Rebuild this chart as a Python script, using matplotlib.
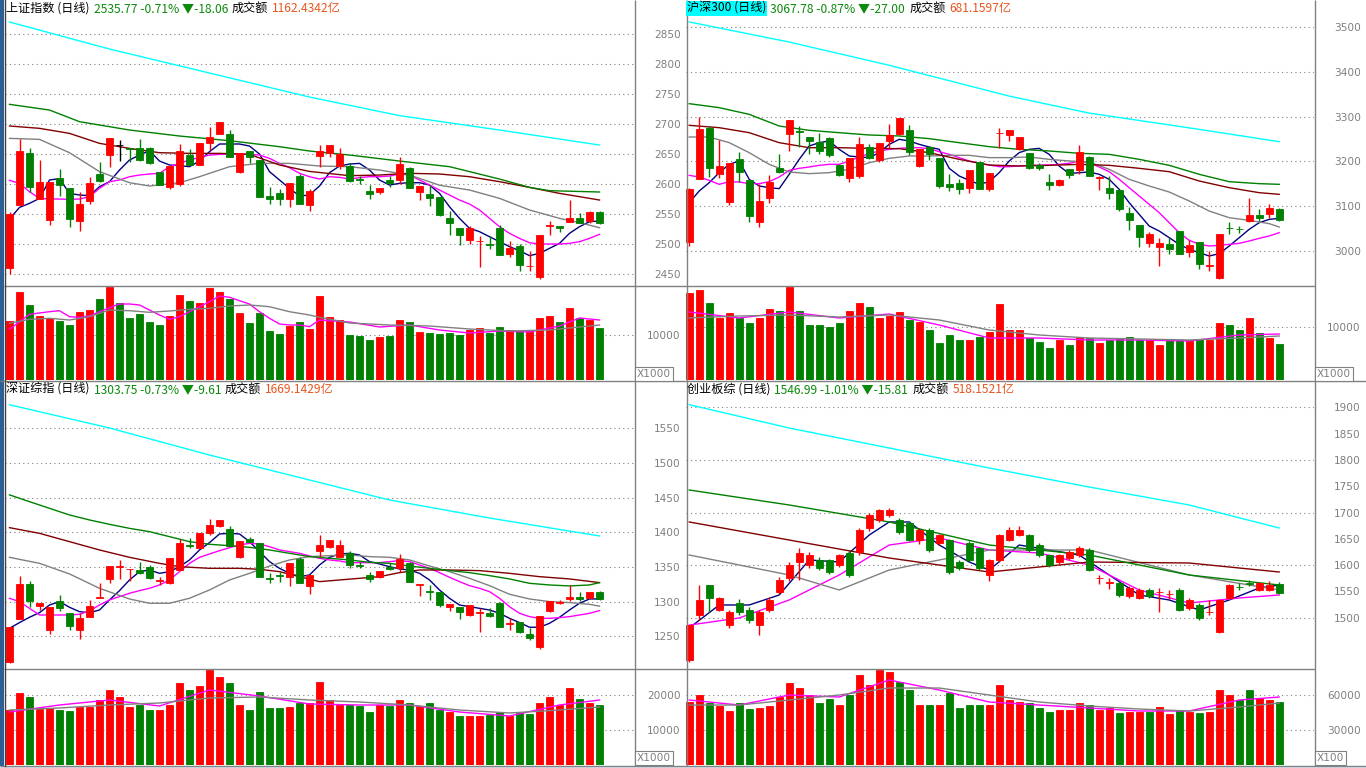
import numpy as np
import matplotlib
matplotlib.use('Agg')
import matplotlib.pyplot as plt
from matplotlib.patches import Rectangle

W, H = 1366, 768
RED = '#ff0000'
GREEN = '#008000'
GRAY = '#808080'
C_MA = ['#000080', '#ff00ff', '#808080', '#800000', '#008000', '#00ffff']
CJK = ['Noto Sans CJK SC', 'DejaVu Sans']
plt.rcParams['font.family'] = ['DejaVu Sans']

# ---------------- 上证指数 ----------------
tl_head = ['上证指数 (日线)', '2535.77 -0.71% ▼-18.06', '成交额', '1162.4342亿']
tl_open = [2460.6, 2565.6, 2651.7, 2575.6, 2540.6, 2610.0, 2593.3, 2539.0, 2572.2, 2616.7,
           2648.9, 2664.4, 2659.4, 2659.4, 2660.0, 2620.6, 2594.4, 2600.0, 2648.9, 2632.2,
           2668.9, 2682.8, 2683.9, 2620.6, 2655.0, 2640.0, 2580.0, 2585.0, 2575.6, 2613.3,
           2564.4, 2646.7, 2651.1, 2630.6, 2630.6, 2607.8, 2588.9, 2587.2, 2606.7, 2606.7,
           2626.7, 2587.2, 2582.8, 2578.3, 2543.9, 2526.7, 2506.7, 2504.4, 2499.4, 2526.1,
           2483.3, 2497.2, 2462.8, 2445.6, 2529.5, 2530.0, 2536.7, 2543.9, 2538.3, 2553.3]
tl_close = [2550.0, 2655.0, 2595.6, 2603.3, 2603.9, 2598.3, 2542.2, 2566.7, 2601.7, 2605.6,
            2676.7, 2664.4, 2658.3, 2640.0, 2635.6, 2598.3, 2629.4, 2655.0, 2631.7, 2668.3,
            2678.3, 2703.3, 2645.6, 2652.2, 2645.6, 2578.9, 2575.6, 2574.4, 2601.7, 2567.2,
            2588.9, 2655.0, 2665.0, 2649.4, 2605.0, 2606.7, 2583.9, 2593.3, 2601.7, 2633.3,
            2593.3, 2596.7, 2576.7, 2547.8, 2535.0, 2515.0, 2527.2, 2505.0, 2498.3, 2481.7,
            2493.9, 2465.6, 2463.9, 2515.0, 2531.0, 2527.2, 2543.9, 2535.6, 2553.8, 2535.8]
tl_high = [2553.3, 2675.0, 2660.0, 2640.0, 2604.0, 2625.0, 2593.3, 2586.7, 2611.0, 2636.7,
           2676.7, 2673.3, 2659.4, 2675.0, 2662.0, 2620.6, 2629.4, 2666.7, 2658.3, 2668.3,
           2694.4, 2703.3, 2690.0, 2652.2, 2655.0, 2640.0, 2594.4, 2591.7, 2601.7, 2616.7,
           2591.0, 2665.0, 2665.0, 2659.4, 2634.4, 2613.3, 2598.3, 2593.3, 2613.3, 2645.6,
           2628.9, 2596.7, 2598.3, 2578.3, 2555.0, 2526.7, 2530.0, 2513.3, 2513.3, 2531.7,
           2505.0, 2500.0, 2488.3, 2515.0, 2538.9, 2530.0, 2573.3, 2551.1, 2555.0, 2555.0]
tl_low = [2449.4, 2565.0, 2586.0, 2575.0, 2531.7, 2580.0, 2529.0, 2522.0, 2567.0, 2604.0,
          2629.0, 2638.3, 2637.0, 2638.3, 2632.8, 2598.3, 2591.0, 2597.0, 2631.7, 2632.2,
          2656.7, 2682.8, 2644.4, 2617.8, 2634.4, 2577.8, 2567.2, 2565.6, 2562.2, 2567.2,
          2555.6, 2628.9, 2645.6, 2624.4, 2604.0, 2599.4, 2575.6, 2583.9, 2594.4, 2599.4,
          2593.3, 2573.3, 2563.3, 2546.7, 2515.0, 2498.3, 2500.0, 2462.2, 2491.7, 2481.7,
          2478.9, 2455.6, 2455.6, 2441.1, 2515.0, 2520.6, 2536.7, 2535.6, 2534.4, 2532.8]
tl_vol = [13111, 19556, 16667, 14222, 13778, 13111, 12222, 15111, 15556, 18000,
          20741, 17111, 13778, 14667, 12889, 12222, 14222, 18889, 17556, 17111,
          20444, 19556, 18000, 14889, 12667, 14889, 10889, 10222, 12000, 12889,
          11333, 18667, 14000, 13333, 10000, 9778, 8889, 9556, 9778, 13333,
          12889, 10667, 10444, 10222, 10444, 10000, 11111, 11556, 10444, 11778,
          11111, 10889, 11111, 13778, 14222, 12889, 16000, 13778, 13333, 11556]
tl_ma5 = [2541.7, 2561.0, 2567.8, 2576.0, 2606.7, 2608.9, 2584.4, 2581.7, 2580.6, 2595.6,
          2603.9, 2623.3, 2640.0, 2648.3, 2655.6, 2638.3, 2631.7, 2630.6, 2628.9, 2638.3,
          2653.9, 2666.7, 2666.7, 2666.7, 2663.3, 2650.0, 2620.6, 2606.7, 2592.8, 2580.0,
          2581.7, 2596.7, 2618.9, 2630.0, 2633.3, 2634.4, 2623.3, 2606.7, 2598.3, 2601.1,
          2602.2, 2602.2, 2598.3, 2584.4, 2562.2, 2542.8, 2526.1, 2520.6, 2512.2, 2503.9,
          2495.6, 2488.9, 2480.6, 2484.4, 2492.8, 2501.1, 2517.8, 2528.9, 2537.2, 2538.3]
tl_ma10 = [2606.1, 2601.1, 2587.2, 2576.1, 2575.0, 2575.0, 2574.4, 2575.0, 2578.9, 2592.8,
           2603.9, 2606.7, 2612.2, 2615.0, 2616.7, 2617.8, 2628.9, 2634.4, 2640.0, 2644.4,
           2648.3, 2649.4, 2650.0, 2650.0, 2649.4, 2648.3, 2642.8, 2634.4, 2627.2, 2617.8,
           2612.2, 2608.3, 2612.2, 2611.1, 2608.3, 2610.6, 2612.2, 2612.2, 2613.3, 2616.7,
           2615.0, 2606.7, 2598.3, 2590.0, 2581.7, 2573.3, 2566.7, 2556.7, 2542.8, 2528.9,
           2517.8, 2509.4, 2502.2, 2500.0, 2500.0, 2500.0, 2501.1, 2503.9, 2509.4, 2516.1]
tl_ma20_i = [0, 3, 6, 9, 12, 14, 17, 19, 22, 25, 28, 31, 34, 37, 40, 43, 46, 49, 52, 55, 57, 59]
tl_ma20 = [2676.1, 2674.4, 2652.2, 2620.6, 2602.2, 2596.7, 2602.2, 2612.2, 2628.9, 2634.4, 2634.4,
           2630.0, 2628.9, 2623.3, 2615.0, 2598.0, 2590.0, 2576.1, 2556.7, 2542.8, 2535.6, 2527.2]
tl_ma30_i = [0, 3, 6, 9, 12, 15, 18, 21, 24, 27, 30, 34, 37, 40, 43, 46, 49, 52, 55, 57, 59]
tl_ma30 = [2696.7, 2692.8, 2684.4, 2667.8, 2659.4, 2652.2, 2651.1, 2651.1, 2649.4, 2631.7, 2621.0,
           2613.9, 2615.0, 2617.8, 2616.7, 2612.2, 2603.9, 2594.4, 2584.4, 2578.9, 2573.3]
tl_ma60_i = [0, 4, 7, 12, 17, 22, 27, 30, 34, 39, 44, 49, 52, 54, 59]
tl_ma60 = [2732.8, 2723.3, 2703.9, 2690.0, 2680.0, 2672.2, 2662.2, 2655.0, 2648.3, 2638.3,
           2628.9, 2608.3, 2594.4, 2588.9, 2586.7]
tl_ma120_i = [0, 10, 20, 30, 39, 49, 59]
tl_ma120 = [2870, 2825, 2785, 2745, 2714, 2690, 2665]
tl_vma5_i = [0, 2, 4, 5, 6, 7, 8, 9, 10, 11, 12, 13, 14, 15, 16, 17, 18, 19, 20, 21, 22, 23, 24, 25,
             26, 27, 28, 29, 30, 31, 34, 37, 40, 43, 46, 49, 52, 55, 57, 59]
tl_vma5 = [11267, 14600, 15178, 15400, 14067, 13933, 14222, 15178, 16067, 16889, 16889, 16667,
           15556, 14444, 13489, 14067, 15178, 16289, 17400, 18667, 18378, 17622, 16889, 15178,
           13711, 12444, 12222, 12222, 11844, 13333, 12889, 11778, 12222, 11111, 10444, 10889,
           10667, 12000, 13778, 13333]
tl_vma10_i = [0, 2, 4, 6, 8, 10, 12, 14, 16, 18, 20, 22, 24, 26, 28, 30, 31, 34, 38, 42, 46, 50, 54, 57, 59]
tl_vma10 = [12600, 13489, 13711, 13333, 14067, 15556, 15400, 15044, 15333, 15711, 15933, 16444,
            16667, 16289, 15178, 14444, 13933, 12667, 12222, 12000, 11333, 10889, 11111, 11778, 12222]

# ---------------- 沪深300 ----------------
tr_head = ['沪深300 (日线)', '3067.78 -0.87% ▼-27.00', '成交额', '681.1597亿']
tr_open = [3019.5, 3161.3, 3275.4, 3171.0, 3109.0, 3204.5, 3157.5, 3064.3, 3118.7, 3185.9,
           3262.0, 3267.9, 3255.3, 3244.1, 3253.0, 3191.8, 3163.5, 3167.2, 3232.9, 3203.0,
           3245.6, 3260.5, 3269.4, 3189.6, 3232.9, 3208.3, 3148.6, 3152.3, 3141.1, 3199.3,
           3137.4, 3262.7, 3259.0, 3226.9, 3219.4, 3191.8, 3154.5, 3147.1, 3182.1, 3179.9,
           3209.8, 3163.5, 3141.1, 3135.9, 3083.7, 3057.6, 3018.0, 3008.3, 3014.3, 3044.1,
           2997.1, 3019.5, 2965.8, 2939.7, 3051.6, 3049.4, 3066.5, 3079.2, 3082.9, 3092.6]
tr_close = [3137.4, 3271.7, 3185.9, 3189.6, 3195.6, 3176.2, 3077.7, 3111.3, 3154.5, 3176.9,
            3291.8, 3265.7, 3245.6, 3223.2, 3213.5, 3169.5, 3206.8, 3238.1, 3206.8, 3241.8,
            3258.2, 3296.3, 3221.7, 3226.9, 3215.7, 3144.8, 3142.6, 3137.4, 3179.9, 3137.4,
            3173.2, 3263.5, 3269.4, 3254.5, 3184.4, 3184.4, 3147.1, 3158.3, 3169.5, 3220.9,
            3167.2, 3164.5, 3128.4, 3092.6, 3068.0, 3030.7, 3038.2, 3018.0, 3003.1, 2993.4,
            3012.1, 2969.5, 2967.0, 3036.7, 3050.5, 3048.4, 3079.2, 3072.5, 3094.8, 3067.8]
tr_high = [3141.1, 3299.3, 3279.0, 3247.8, 3195.6, 3221.0, 3157.5, 3148.6, 3168.7, 3217.2,
           3291.8, 3279.1, 3255.3, 3264.2, 3255.0, 3194.8, 3206.8, 3255.3, 3239.6, 3241.8,
           3282.9, 3296.3, 3281.4, 3226.9, 3234.4, 3208.3, 3171.0, 3161.3, 3179.9, 3199.3,
           3173.2, 3273.9, 3269.4, 3254.5, 3219.4, 3197.0, 3171.0, 3159.8, 3182.1, 3235.9,
           3212.0, 3167.2, 3167.2, 3135.9, 3098.6, 3057.6, 3041.9, 3029.2, 3029.2, 3044.1,
           3024.0, 3019.5, 2999.4, 3036.7, 3064.3, 3055.3, 3118.7, 3092.6, 3103.8, 3095.0]
tr_low = [3010.6, 3161.0, 3165.0, 3163.5, 3102.3, 3154.5, 3064.3, 3053.1, 3107.5, 3173.2,
          3223.2, 3232.1, 3217.2, 3217.2, 3209.8, 3167.0, 3153.8, 3163.5, 3204.5, 3199.3,
          3230.6, 3258.2, 3214.2, 3187.4, 3202.3, 3141.1, 3133.7, 3127.7, 3128.4, 3137.4,
          3133.7, 3230.6, 3245.6, 3224.7, 3182.0, 3179.9, 3135.2, 3144.8, 3163.5, 3171.0,
          3167.2, 3135.2, 3116.5, 3088.9, 3045.6, 3008.3, 3008.3, 2965.8, 2993.4, 2993.4,
          2986.0, 2958.3, 2954.6, 2936.0, 3036.7, 3038.9, 3064.3, 3066.5, 3072.5, 3066.0]
tr_vol = [16417, 16983, 14530, 11699, 12643, 11699, 10756, 11699, 13398, 13020,
          17549, 13020, 10379, 10379, 10001, 10756, 13020, 14530, 13775, 11699,
          12077, 12832, 11322, 10945, 9435, 6982, 8492, 7548, 7548, 8114,
          9058, 14341, 9435, 9435, 7925, 7171, 6038, 7548, 6605, 8114,
          7925, 6982, 7548, 7925, 8114, 7548, 7548, 6605, 7548, 7548,
          7548, 7737, 7548, 10756, 10379, 9435, 11699, 8869, 7925, 6793]
tr_ma5 = [3107.5, 3133.7, 3152.3, 3174.7, 3193.3, 3200.8, 3159.8, 3144.9, 3141.1, 3138.9,
          3171.0, 3204.5, 3234.4, 3241.8, 3245.6, 3226.9, 3212.0, 3209.8, 3208.3, 3219.5,
          3238.1, 3249.3, 3245.6, 3238.1, 3232.1, 3226.9, 3184.4, 3167.2, 3157.5, 3148.6,
          3154.5, 3174.7, 3200.8, 3219.5, 3226.9, 3229.1, 3215.7, 3189.6, 3172.5, 3174.7,
          3176.2, 3171.0, 3159.8, 3137.4, 3107.5, 3081.4, 3055.3, 3044.1, 3029.2, 3014.3,
          3003.1, 2995.7, 2988.2, 2993.4, 3010.6, 3029.2, 3047.9, 3062.8, 3070.2, 3072.5]
tr_ma10 = [3168.7, 3165.0, 3157.5, 3148.6, 3154.5, 3153.8, 3150.1, 3150.1, 3154.5, 3165.0,
           3179.9, 3184.4, 3187.4, 3191.1, 3193.3, 3193.3, 3200.8, 3209.8, 3217.2, 3223.2,
           3226.9, 3229.1, 3230.6, 3230.6, 3228.4, 3221.7, 3215.7, 3208.3, 3200.8, 3195.6,
           3191.8, 3188.1, 3188.1, 3189.6, 3191.1, 3191.8, 3191.8, 3193.3, 3195.6, 3200.8,
           3197.0, 3187.4, 3176.9, 3159.8, 3141.1, 3122.5, 3103.8, 3085.2, 3062.8, 3040.4,
           3023.3, 3014.3, 3010.6, 3012.1, 3014.3, 3016.5, 3021.8, 3027.7, 3033.0, 3040.4]
tr_ma20_i = [0, 2, 4, 6, 8, 10, 12, 14, 16, 18, 20, 22, 24, 26, 28, 30, 32, 34, 36, 38, 40, 42,
             44, 46, 48, 50, 52, 54, 56, 58, 59]
tr_ma20 = [3254.5, 3254.5, 3241.8, 3219.5, 3193.3, 3176.2, 3172.5, 3174.7, 3182.1, 3197.0, 3206.8,
           3212.0, 3212.0, 3213.5, 3213.5, 3208.3, 3208.3, 3209.8, 3204.5, 3200.8, 3198.6, 3182.1,
           3159.8, 3144.9, 3131.4, 3111.3, 3088.9, 3073.9, 3068.0, 3060.6, 3053.1]
tr_ma30_i = [0, 3, 6, 9, 12, 15, 18, 21, 24, 27, 30, 33, 36, 39, 42, 45, 48, 51, 54, 57, 59]
tr_ma30 = [3280.6, 3275.4, 3264.2, 3241.8, 3230.6, 3230.6, 3229.1, 3228.4, 3219.5, 3204.5, 3191.8,
           3189.6, 3191.1, 3193.3, 3191.1, 3184.4, 3176.9, 3156.0, 3141.1, 3129.9, 3126.2]
tr_ma60_i = tr_ma30_i
tr_ma60 = [3329.1, 3320.2, 3305.2, 3279.1, 3269.4, 3264.2, 3259.0, 3256.8, 3250.8, 3241.8, 3232.9,
           3226.9, 3223.2, 3218.0, 3215.7, 3204.5, 3191.1, 3171.0, 3154.5, 3150.1, 3148.6]
tr_ma120_i = [0, 10, 20, 32, 40, 50, 59]
tr_ma120 = [3512, 3467, 3415, 3346, 3308, 3275, 3244]
tr_vma_i = [0, 5, 10, 15, 20, 25, 30, 35, 40, 45, 50, 55, 59]
tr_vma5 = [12832, 11699, 12832, 11699, 12454, 10379, 7925, 7925, 7548, 7548, 7359, 8492, 8680]
tr_vma10 = [11699, 12077, 12266, 11888, 12266, 11322, 9435, 8492, 7925, 7737, 7548, 7925, 8303]

# ---------------- 深证综指 ----------------
bl_head = ['深证综指 (日线)', '1303.75 -0.73% ▼-9.61', '成交额', '1669.1429亿']
bl_open = [1213.4, 1275.0, 1325.4, 1294.2, 1259.1, 1300.9, 1283.1, 1259.1, 1278.3, 1304.8,
           1333.1, 1350.4, 1346.6, 1345.6, 1349.5, 1329.8, 1327.4, 1345.6, 1381.7, 1377.8,
           1399.5, 1409.1, 1404.8, 1364.9, 1390.3, 1384.1, 1334.1, 1338.4, 1336.0, 1361.5,
           1323.0, 1373.5, 1379.3, 1364.9, 1369.7, 1352.8, 1338.4, 1336.0, 1350.4, 1349.0,
           1356.2, 1324.0, 1315.3, 1314.4, 1292.7, 1292.7, 1280.7, 1283.6, 1284.1, 1297.6,
           1267.7, 1271.1, 1253.3, 1235.0, 1287.0, 1298.3, 1303.8, 1307.2, 1304.8, 1313.4]
bl_close = [1263.9, 1325.4, 1301.4, 1297.6, 1292.7, 1291.3, 1265.3, 1276.9, 1293.7, 1306.2,
            1351.4, 1351.9, 1347.6, 1341.8, 1334.6, 1330.8, 1362.5, 1385.1, 1380.2, 1399.5,
            1410.5, 1417.8, 1380.7, 1387.9, 1385.5, 1336.0, 1333.1, 1337.4, 1356.2, 1326.4,
            1338.4, 1381.7, 1388.9, 1381.7, 1352.8, 1351.8, 1332.7, 1344.2, 1347.1, 1361.5,
            1327.8, 1325.0, 1314.3, 1295.1, 1296.6, 1285.5, 1295.1, 1284.6, 1279.8, 1263.9,
            1268.7, 1256.7, 1247.1, 1279.3, 1300.9, 1299.0, 1307.2, 1303.3, 1313.4, 1303.75]
bl_high = [1263.9, 1337.0, 1329.8, 1297.6, 1292.7, 1309.6, 1283.1, 1283.1, 1302.4, 1327.4,
           1351.4, 1360.1, 1347.6, 1357.7, 1352.8, 1336.0, 1362.5, 1389.9, 1391.3, 1399.5,
           1419.2, 1417.8, 1409.1, 1387.9, 1393.7, 1384.1, 1340.8, 1343.2, 1356.2, 1364.9,
           1338.4, 1396.1, 1388.9, 1388.9, 1373.5, 1357.7, 1343.2, 1344.2, 1355.2, 1368.7,
           1357.7, 1325.0, 1324.0, 1314.4, 1296.6, 1292.7, 1295.1, 1290.3, 1290.3, 1300.0,
           1275.9, 1271.1, 1261.5, 1279.3, 1300.9, 1302.4, 1324.0, 1313.4, 1313.9, 1315.0]
bl_low = [1211.0, 1275.0, 1292.7, 1287.9, 1253.3, 1286.5, 1259.1, 1245.6, 1278.3, 1304.8,
          1327.4, 1333.1, 1330.2, 1339.9, 1333.1, 1324.0, 1325.4, 1345.6, 1376.9, 1377.8,
          1396.1, 1408.1, 1380.7, 1362.5, 1384.1, 1335.0, 1326.4, 1328.8, 1323.0, 1326.4,
          1311.0, 1363.9, 1376.9, 1364.9, 1349.0, 1348.0, 1328.8, 1334.6, 1345.6, 1343.2,
          1327.8, 1308.6, 1302.4, 1292.7, 1286.5, 1275.0, 1279.8, 1256.7, 1278.3, 1263.9,
          1259.1, 1254.3, 1244.7, 1231.7, 1284.6, 1296.1, 1301.4, 1300.9, 1304.8, 1302.0]
bl_vol = [15714, 20571, 19429, 16000, 16286, 15714, 15429, 16571, 16571, 18571,
          21429, 19429, 16571, 17143, 15714, 15714, 17143, 23429, 21429, 22571,
          27143, 25143, 23429, 17143, 15714, 20857, 16286, 16286, 16571, 17714,
          17714, 23714, 18571, 17143, 17143, 16857, 15143, 17143, 16857, 18571,
          17714, 16857, 17714, 15714, 15143, 14000, 14000, 14000, 14286, 15143,
          14000, 14857, 14571, 17714, 19429, 17143, 22000, 18857, 17714, 17143]
bl_ma5 = [1261.5, 1269.7, 1277.4, 1284.1, 1295.1, 1300.0, 1291.8, 1285.5, 1284.1, 1287.9,
          1302.4, 1315.8, 1331.2, 1343.2, 1345.6, 1340.8, 1343.2, 1350.4, 1360.1, 1374.5,
          1385.1, 1397.6, 1398.5, 1397.6, 1386.5, 1372.1, 1357.7, 1348.0, 1340.8, 1336.0,
          1338.4, 1352.8, 1363.9, 1368.7, 1369.7, 1367.3, 1357.7, 1354.3, 1350.4, 1347.1,
          1345.6, 1340.8, 1331.2, 1316.8, 1304.8, 1295.1, 1292.7, 1290.3, 1287.9, 1283.1,
          1275.9, 1269.7, 1263.0, 1263.0, 1268.7, 1277.4, 1287.9, 1297.6, 1303.8, 1303.8]
bl_ma10 = [1304.8, 1300.0, 1290.3, 1280.7, 1280.7, 1280.7, 1280.7, 1281.7, 1286.5, 1295.1,
           1302.4, 1307.2, 1312.0, 1315.8, 1319.2, 1324.0, 1331.2, 1343.2, 1355.2, 1363.9,
           1368.7, 1373.5, 1377.8, 1381.7, 1384.1, 1383.1, 1379.3, 1374.5, 1372.1, 1369.7,
           1365.9, 1362.5, 1360.1, 1358.6, 1356.2, 1356.2, 1356.2, 1356.2, 1357.7, 1359.1,
           1357.7, 1352.8, 1348.0, 1341.8, 1335.1, 1328.8, 1323.0, 1319.2, 1314.4, 1304.8,
           1292.7, 1283.1, 1278.3, 1275.9, 1275.9, 1276.9, 1278.3, 1280.7, 1283.1, 1287.0]
bl_ma20_i = [0, 3, 6, 9, 12, 14, 16, 18, 20, 22, 24, 26, 28, 30, 32, 34, 36, 38, 40, 42, 44, 46,
             48, 50, 52, 54, 56, 58, 59]
bl_ma20 = [1363.9, 1355.2, 1339.9, 1319.2, 1303.8, 1297.6, 1297.6, 1304.8, 1316.8, 1331.2, 1340.8,
           1351.4, 1360.1, 1364.9, 1366.3, 1367.3, 1364.9, 1363.9, 1360.1, 1351.4, 1343.2, 1333.6,
           1323.0, 1310.6, 1303.8, 1300.0, 1298.6, 1296.1, 1293.4]
bl_ma30_i = [0, 3, 6, 9, 12, 15, 17, 20, 23, 25, 27, 29, 31, 33, 35, 37, 39, 41, 44, 47, 50, 53, 56, 59]
bl_ma30 = [1406.7, 1398.5, 1386.5, 1374.5, 1363.9, 1355.2, 1350.4, 1348.0, 1348.0, 1346.6, 1343.2,
           1336.0, 1328.8, 1331.2, 1333.6, 1336.0, 1341.8, 1345.6, 1345.6, 1344.7, 1340.8, 1336.0,
           1332.7, 1327.4]
bl_ma60_i = [0, 2, 4, 6, 8, 10, 12, 14, 16, 18, 20, 22, 24, 26, 28, 30, 32, 34, 36, 38, 40, 42,
             44, 46, 48, 50, 52, 54, 56, 58, 59]
bl_ma60 = [1454.0, 1444.2, 1434.6, 1425.0, 1417.8, 1411.5, 1405.7, 1400.9, 1393.7, 1386.5, 1382.7,
           1380.7, 1378.3, 1374.5, 1369.7, 1364.9, 1362.5, 1360.1, 1356.7, 1355.2, 1351.4, 1348.0,
           1344.7, 1341.8, 1337.5, 1332.7, 1326.4, 1324.0, 1322.6, 1324.0, 1327.4]
bl_ma120_i = [0, 10, 20, 30, 38, 48, 59]
bl_ma120 = [1584, 1550.5, 1511.5, 1475.5, 1446.6, 1420.6, 1394.7]
bl_vma_i = [0, 5, 10, 15, 20, 25, 30, 35, 40, 45, 50, 55, 59]
bl_vma5 = [15143, 17143, 18571, 16857, 21429, 19714, 17429, 17143, 17143, 15143, 14000, 17143, 18571]
bl_vma10 = [15714, 16286, 17143, 17714, 19143, 19429, 18571, 18000, 17143, 15714, 14857, 15714, 16571]

# ---------------- 创业板综 ----------------
br_head = ['创业板综 (日线)', '1546.99 -1.01% ▼-15.81', '成交额', '518.1521亿']
br_open = [1419.6, 1505.2, 1562.2, 1514.7, 1486.1, 1528.0, 1514.7, 1486.1, 1514.7, 1548.9,
           1575.5, 1605.9, 1600.2, 1609.7, 1609.7, 1600.2, 1623.0, 1625.0, 1670.6, 1685.8,
           1695.3, 1685.8, 1680.1, 1647.7, 1666.8, 1642.0, 1647.7, 1605.9, 1642.0, 1632.5,
           1581.2, 1609.7, 1647.7, 1657.2, 1657.2, 1638.2, 1619.2, 1605.9, 1613.5, 1619.2,
           1628.7, 1575.0, 1566.0, 1566.0, 1541.3, 1537.5, 1552.7, 1548.0, 1545.0, 1552.7,
           1518.5, 1524.2, 1510.0, 1472.9, 1537.5, 1559.0, 1566.0, 1552.7, 1552.7, 1565.0]
br_close = [1486.1, 1533.7, 1537.5, 1537.5, 1510.9, 1510.9, 1495.7, 1510.9, 1533.7, 1571.7,
            1600.2, 1623.0, 1619.2, 1594.5, 1586.9, 1619.2, 1581.2, 1666.8, 1695.3, 1704.8,
            1704.8, 1663.0, 1647.7, 1666.8, 1628.7, 1657.2, 1586.9, 1594.5, 1609.7, 1594.5,
            1609.7, 1657.2, 1666.8, 1666.8, 1628.7, 1619.2, 1600.2, 1619.2, 1625.0, 1632.5,
            1590.7, 1576.0, 1567.0, 1543.2, 1556.5, 1552.7, 1541.3, 1549.0, 1546.0, 1514.7,
            1533.7, 1499.5, 1511.0, 1533.7, 1562.2, 1558.0, 1565.0, 1566.0, 1562.8, 1546.99]
br_high = [1486.1, 1562.2, 1562.2, 1540.0, 1514.0, 1535.0, 1520.0, 1515.0, 1540.0, 1577.0,
           1605.0, 1632.5, 1625.0, 1615.0, 1612.0, 1622.0, 1626.0, 1670.0, 1700.0, 1706.0,
           1708.6, 1690.0, 1683.0, 1670.0, 1670.0, 1660.0, 1650.0, 1610.0, 1645.0, 1635.0,
           1612.0, 1660.0, 1672.0, 1675.0, 1660.0, 1642.0, 1622.0, 1622.0, 1628.0, 1636.0,
           1632.0, 1582.0, 1575.0, 1570.0, 1560.0, 1556.0, 1556.0, 1556.0, 1552.7, 1556.0,
           1537.0, 1528.0, 1533.0, 1535.0, 1565.0, 1566.0, 1572.0, 1568.0, 1570.0, 1568.0]
br_low = [1415.0, 1495.7, 1510.9, 1512.0, 1480.0, 1505.0, 1490.0, 1467.0, 1510.0, 1545.0,
          1570.0, 1571.7, 1595.0, 1590.0, 1583.0, 1596.0, 1578.0, 1620.0, 1665.0, 1682.0,
          1692.0, 1660.0, 1645.0, 1640.0, 1625.0, 1638.0, 1583.0, 1590.0, 1605.0, 1590.0,
          1570.0, 1605.0, 1645.0, 1655.0, 1625.0, 1615.0, 1597.0, 1602.0, 1610.0, 1615.0,
          1588.0, 1565.0, 1555.0, 1540.0, 1538.0, 1535.0, 1538.0, 1510.0, 1535.0, 1512.0,
          1515.0, 1496.0, 1505.0, 1470.0, 1535.0, 1552.0, 1560.0, 1550.0, 1550.0, 1545.0]
br_vol = [53991, 59990, 53134, 50563, 46278, 53134, 47992, 48849, 50563, 58276,
          70274, 65989, 59990, 53134, 56562, 51420, 59990, 77130, 68560, 81415,
          79701, 71131, 64275, 51420, 51420, 51420, 61704, 48849, 51420, 51420,
          51420, 68560, 55705, 53991, 53134, 48849, 45421, 47135, 47135, 53134,
          51420, 47135, 48849, 44564, 45421, 45421, 45421, 49706, 43707, 47135,
          45421, 44564, 45421, 64275, 59990, 55705, 64275, 57419, 55705, 53991]
br_ma5_i = [0, 3, 6, 9, 12, 15, 18, 20, 22, 25, 28, 30, 33, 36, 39, 42, 45, 48, 51, 54, 57, 59]
br_ma5 = [1480.4, 1524.2, 1524.2, 1543.2, 1609.7, 1605.9, 1657.2, 1682.0, 1682.0, 1638.2, 1605.9,
          1590.7, 1638.2, 1628.7, 1619.2, 1581.2, 1543.2, 1533.7, 1514.7, 1533.7, 1556.5, 1562.2]
br_ma10_i = [0, 5, 10, 15, 20, 25, 30, 35, 40, 45, 50, 55, 59]
br_ma10 = [1486.0, 1499.5, 1533.7, 1581.2, 1638.2, 1651.5, 1628.7, 1623.0, 1600.2, 1552.7, 1528.0,
           1537.5, 1543.2]
br_ma20_i = [0, 10, 15, 20, 30, 40, 50, 59]
br_ma20 = [1619.2, 1581.2, 1552.7, 1590.7, 1628.7, 1628.7, 1581.2, 1552.7]
br_ma30_i = [0, 10, 20, 30, 40, 50, 59]
br_ma30 = [1682.0, 1647.7, 1613.5, 1586.9, 1605.9, 1604.0, 1586.9]
br_ma60_i = [0, 10, 20, 30, 40, 50, 59]
br_ma60 = [1742.8, 1714.3, 1682.0, 1638.2, 1619.2, 1581.2, 1562.2]
br_ma120_i = [0, 10, 20, 30, 40, 50, 59]
br_ma120 = [1905, 1860.6, 1822.6, 1784.6, 1748.5, 1714.3, 1670.5]
br_vma_i = [0, 5, 10, 15, 20, 25, 30, 35, 40, 45, 50, 55, 59]
br_vma5 = [55705, 51420, 59990, 58276, 72845, 64275, 53991, 51420, 48849, 46278, 46278, 55705, 58276]
br_vma10 = [51420, 51420, 55705, 59990, 65989, 65989, 59990, 53991, 50563, 47992, 46278, 49706, 53134]

fig = plt.figure(figsize=(W / 100, H / 100), dpi=100)
fig.patch.set_facecolor('white')


def px_axes(x0, y0, x1, y1):
    return fig.add_axes([x0 / W, 1 - y1 / H, (x1 - x0) / W, (y1 - y0) / H])


def dotted(ax, vals):
    for v in vals:
        ax.axhline(v, color=GRAY, lw=0.8, ls=(0, (1, 3)), zorder=0)


def right_labels(ax, ticks):
    ax.yaxis.tick_right()
    ax.set_yticks(ticks)
    ax.set_yticklabels([str(t) for t in ticks])
    ax.tick_params(axis='y', length=0, pad=33.8, labelsize=7.6, labelcolor='#7f7f7f')
    for t in ax.get_yticklabels():
        t.set_horizontalalignment('right')
    ax.set_xticks([])
    for s in ax.spines.values():
        s.set_visible(False)


def panel(x0, x1, y0, ym, y1, xlim, o, h, l, c, vol, mas, vmas,
          plim, pticks, pgrid, vlim, vticks):
    o, h, l, c = map(np.asarray, (o, h, l, c))
    x = np.arange(len(o))
    cols = [RED if c[i] > o[i] else GREEN if c[i] < o[i] else 'black' for i in x]
    vcols = []
    for i in x:
        prev = c[i - 1] if i else o[i]
        vcols.append(RED if (c[i] > o[i] or (c[i] == o[i] and c[i] >= prev)) else GREEN)

    axp = px_axes(x0, y0, x1, ym)
    axp.set_xlim(*xlim)
    axp.set_ylim(*plim)
    dotted(axp, pgrid)
    for (idx, vals), col in zip(mas, C_MA):
        axp.plot(idx, vals, color=col, lw=1.0, zorder=2)
    axp.vlines(x, l, h, colors=cols, lw=1.0, zorder=3)
    axp.bar(x, c - o, bottom=o, width=0.72, color=cols, edgecolor=cols, lw=0.6, zorder=4)
    right_labels(axp, pticks)

    axv = px_axes(x0, ym, x1, y1)
    axv.set_xlim(*xlim)
    axv.set_ylim(*vlim)
    dotted(axv, vticks)
    axv.bar(x, vol, width=0.72, color=vcols, edgecolor=vcols, lw=0.6, zorder=2)
    for (idx, vals), col in zip(vmas, [C_MA[1], C_MA[2]]):
        axv.plot(idx, vals, color=col, lw=1.0, zorder=3)
    right_labels(axv, vticks)


full = list(range(60))
LX = (-0.45, 62.45)
RX = (-0.32, 62.48)

panel(5, 634, 0, 285, 380, LX, tl_open, tl_high, tl_low, tl_close, tl_vol,
      [(full, tl_ma5), (full, tl_ma10), (tl_ma20_i, tl_ma20), (tl_ma30_i, tl_ma30),
       (tl_ma60_i, tl_ma60), (tl_ma120_i, tl_ma120)],
      [(tl_vma5_i, tl_vma5), (tl_vma10_i, tl_vma10)],
      (2431.7, 2906.7), list(range(2450, 2851, 50)), list(range(2450, 2851, 50)),
      (0, 21111), [10000])

panel(686, 1314, 0, 285, 380, RX, tr_open, tr_high, tr_low, tr_close, tr_vol,
      [(full, tr_ma5), (full, tr_ma10), (tr_ma20_i, tr_ma20), (tr_ma30_i, tr_ma30),
       (tr_ma60_i, tr_ma60), (tr_ma120_i, tr_ma120)],
      [(tr_vma_i, tr_vma5), (tr_vma_i, tr_vma10)],
      (2923.3, 3561.1), list(range(3000, 3501, 100)), list(range(3000, 3501, 100)),
      (0, 17925), [10000])

panel(5, 634, 381, 668, 765, LX, bl_open, bl_high, bl_low, bl_close, bl_vol,
      [(full, bl_ma5), (full, bl_ma10), (bl_ma20_i, bl_ma20), (bl_ma30_i, bl_ma30),
       (bl_ma60_i, bl_ma60), (bl_ma120_i, bl_ma120)],
      [(bl_vma_i, bl_vma5), (bl_vma_i, bl_vma10)],
      (1204.2, 1618.3), list(range(1250, 1551, 50)), list(range(1250, 1551, 50)),
      (0, 27714), [10000, 20000])

panel(686, 1314, 381, 668, 765, RX, br_open, br_high, br_low, br_close, br_vol,
      [(br_ma5_i, br_ma5), (br_ma10_i, br_ma10), (br_ma20_i, br_ma20), (br_ma30_i, br_ma30),
       (br_ma60_i, br_ma60), (br_ma120_i, br_ma120)],
      [(br_vma_i, br_vma5), (br_vma_i, br_vma10)],
      (1404.4, 1950.0), list(range(1500, 1901, 50)), list(range(1500, 1901, 100)),
      (0, 83143), [30000, 60000])

# frame lines, headers and unit boxes on a transparent overlay in pixel units
ov = fig.add_axes([0, 0, 1, 1])
ov.set_xlim(0, W)
ov.set_ylim(H, 0)
ov.axis('off')
ov.patch.set_alpha(0)
ov.set_zorder(10)
ov.add_patch(Rectangle((0, 0), 3.5, H, fc='#2d5e96', ec='none'))
ov.add_patch(Rectangle((0, 766), W, 2, fc='#dce6f2', ec='none'))
seg = dict(color=GRAY, lw=1.0, solid_capstyle='butt')
for y in (285.5, 668.5):
    ov.plot([4, 1314.5], [y, y], **seg)
ov.plot([0, W], [380.5, 380.5], **seg)
ov.plot([0, W], [765.5, 765.5], **seg)
for xv in (634.5, 686.5, 1314.5):
    ov.plot([xv, xv], [0, 766], **seg)
ov.plot([4.5, 4.5], [0, 766], color='#404040', lw=1.0)

rend = fig.canvas.get_renderer()


def header(x, y, parts, hl=None):
    cols = ['black', '#0b8a0b', 'black', '#e8561e']
    for k, (s, col) in enumerate(zip(parts, cols)):
        kw = {}
        if k == 0 and hl:
            kw['bbox'] = dict(boxstyle='square,pad=0.08', fc=hl, ec='none')
        t = ov.text(x, y, s, color=col, fontsize=8.7, va='center', ha='left',
                    family=CJK, **kw)
        x += t.get_window_extent(rend).width + 4


header(6, 8.5, tl_head)
header(687, 8.5, tr_head, hl='#00ffff')
header(6, 389.5, bl_head)
header(687, 389.5, br_head)

box = dict(boxstyle='square,pad=0.15', fc='white', ec=GRAY, lw=0.8)
for xx, yy, s in ((637, 374, 'X1000'), (1317, 374, 'X1000'), (637, 758, 'X1000'), (1317, 758, 'X100')):
    ov.text(xx, yy, s, fontsize=7.6, color='#7f7f7f', va='center', ha='left', bbox=box)

fig.savefig('out.png', dpi=100)
